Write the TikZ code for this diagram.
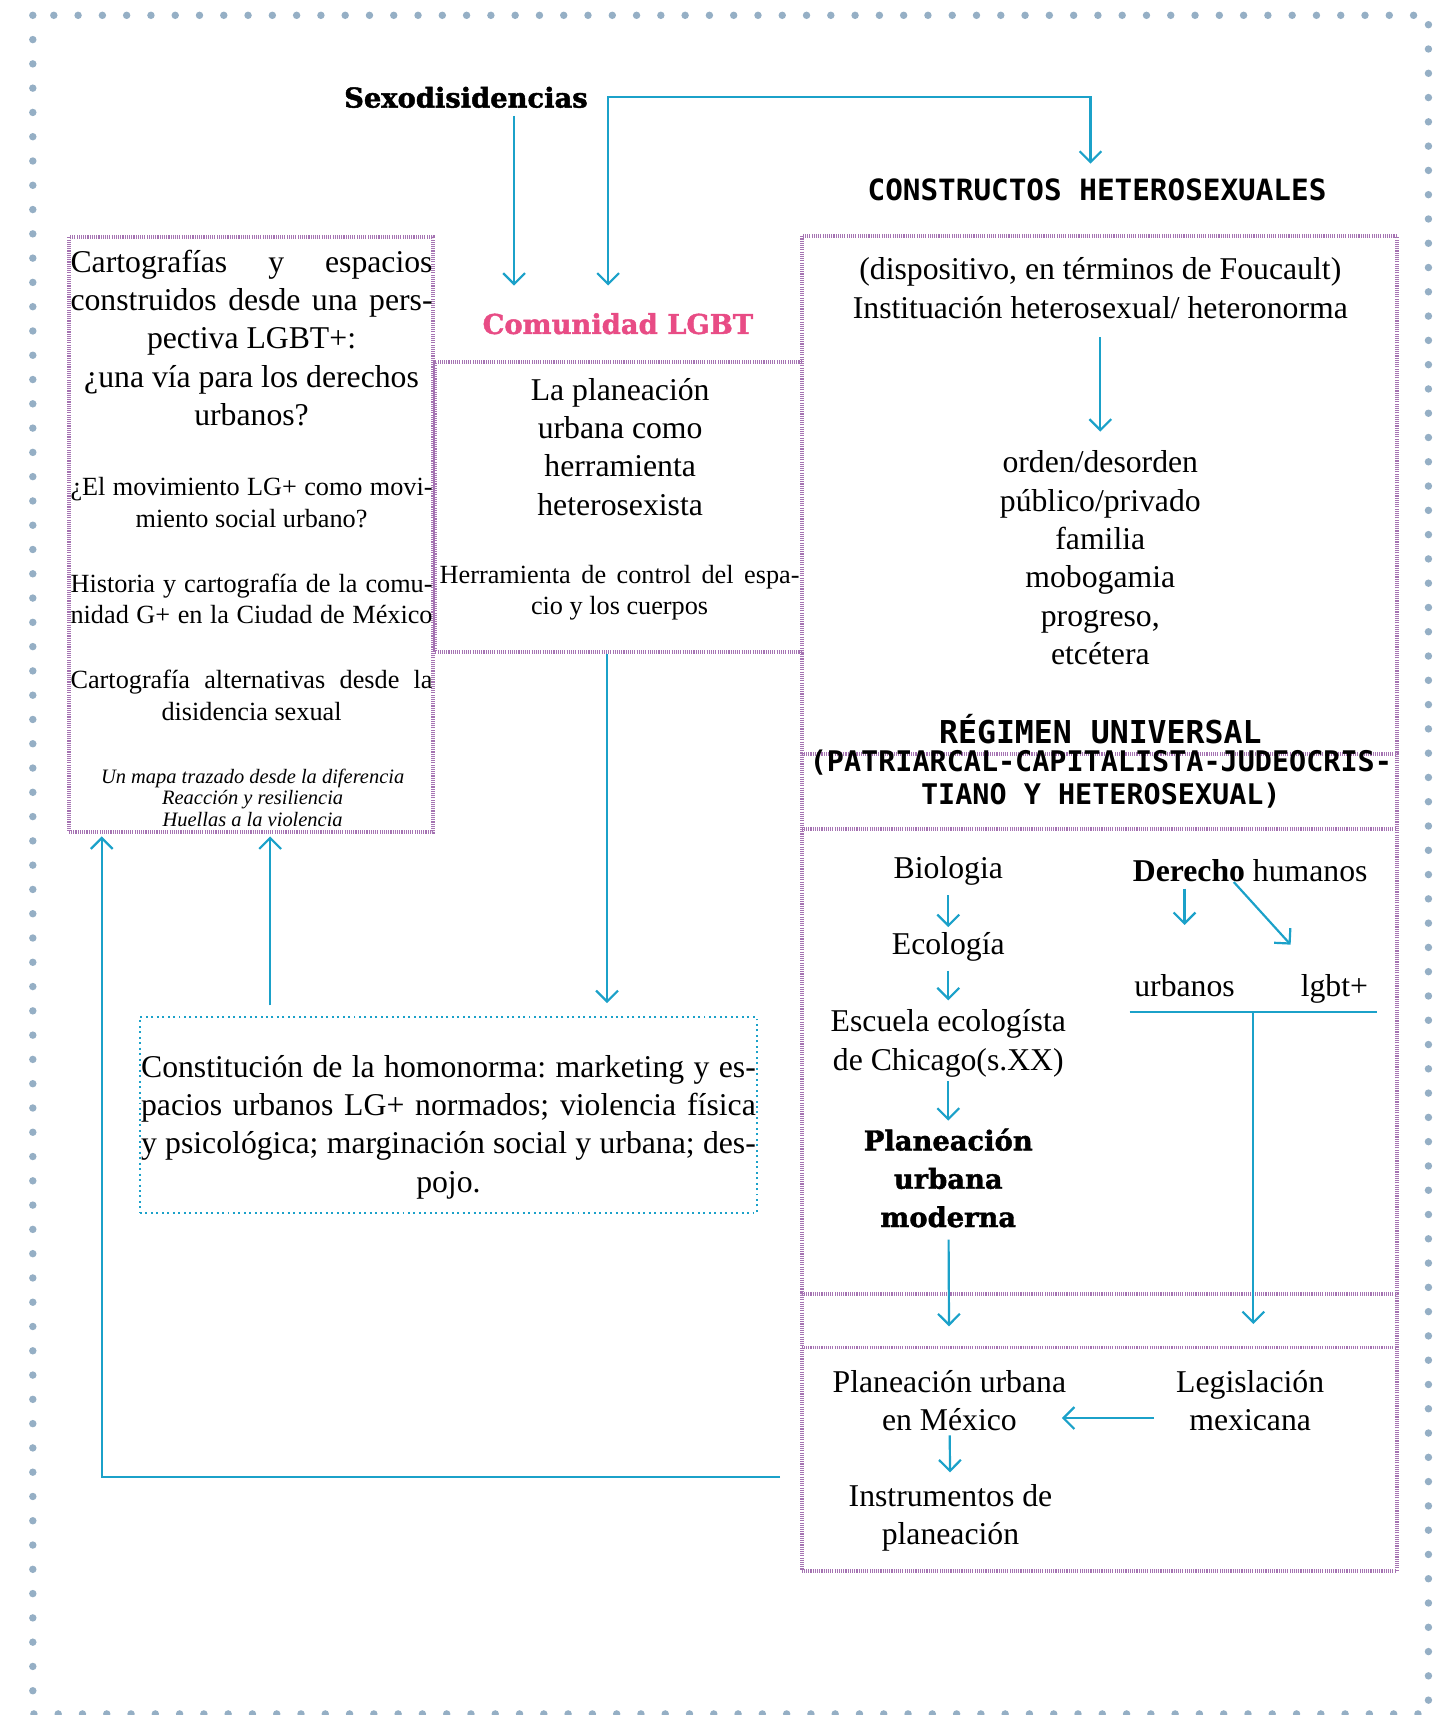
\documentclass[tikz,border=0pt]{standalone}
\usepackage{fontspec}
\setmainfont{Liberation Serif}
\newfontfamily\displayfont{DejaVu Serif}[BoldFeatures={FakeBold=1.6}]
\newfontfamily\monofont{DejaVu Sans Mono}
\usepackage{tikz}
\usetikzlibrary{arrows.meta}

\definecolor{lineBlue}{RGB}{27,161,201}
\definecolor{lgbtPink}{RGB}{232,76,133}
\definecolor{boxPurple}{RGB}{165,115,178}
\definecolor{frameDot}{RGB}{149,175,197}

% stretch one line of a paragraph to a given width
\newcommand{\spreadline}[2][331pt]{\makebox[#1][s]{#2}}
\frenchspacing

\begin{document}
\begin{tikzpicture}[
  x=1pt, y=-1pt,
  every node/.style={align=center, inner sep=0pt},
  framedots/.style={draw=frameDot, line width=6.8pt, line cap=round, dash pattern=on 0pt off 22.2pt},
  box/.style={draw=boxPurple, line width=3.5pt, dash pattern=on 1pt off 1pt},
  dottedbox/.style={draw=lineBlue, line width=1.8pt, dash pattern=on 1.8pt off 3.2pt},
  flow/.style={-{Straight Barb[length=10pt,width=20pt]}, draw=lineBlue, line width=2pt},
  link/.style={draw=lineBlue, line width=2pt},
  bodytext/.style={font=\fontsize{29}{35}\selectfont},
  smalltext/.style={font=\fontsize{24}{29}\selectfont},
  notetext/.style={font=\itshape\fontsize{18.7}{19.5}\selectfont},
  heading/.style={font=\displayfont\bfseries\fontsize{25}{35}\selectfont},
  caps/.style={font=\monofont\bfseries\fontsize{26}{30}\selectfont}]

\useasboundingbox (0,0) rectangle (1330,1568);

% Dotted frame round the page
\draw[framedots] (30,14) rectangle (1306,1567);

% Boxes
\node[box, minimum width=333pt, minimum height=544pt] (cartografiasBox) at (229.5,489) {};
\node[box, minimum width=335pt, minimum height=265pt] (herramientaBox) at (565.5,463.5) {};
\node[box, minimum width=544pt, minimum height=1220pt] (constructosBox) at (1005,826) {};
\node[box, minimum width=544pt, minimum height=69pt] (regimenBox) at (1005,723.5) {};
\node[box, minimum width=544pt, minimum height=49pt] (enlaceBox) at (1005,1207.5) {};
\node[dottedbox, minimum width=564pt, minimum height=179pt] (homonormaBox) at (410,1019.5) {};

% Titles
\node[heading] (sexodisidencias) at (426,89) {Sexodisidencias};
\node[heading, text=lgbtPink] (comunidadLGBT) at (565,296) {Comunidad LGBT};
\node[caps, font=\monofont\bfseries\fontsize{26.8}{30}\selectfont] (constructosHetero) at (1003,174) {CONSTRUCTOS HETEROSEXUALES};

% Left box
\node[bodytext] (cartografiasTitle) at (230,309)
  {\spreadline{Cartografías y espacios}\\ \spreadline{construidos desde una pers-}\\ pectiva LGBT+:\\ ¿una vía para los derechos\\ urbanos?};
\node[smalltext] (movimientoLG) at (230,459.5)
  {\spreadline{¿El movimiento LG+ como movi-}\\ miento social urbano?};
\node[smalltext] (historiaCDMX) at (230,547.5)
  {\spreadline{Historia y cartografía de la comu-}\\ \spreadline{nidad G+ en la Ciudad de México}};
\node[smalltext] (cartografiaAlt) at (230,635.5)
  {\spreadline{Cartografía alternativas desde la}\\ disidencia sexual};
\node[notetext] (mapaDiferencia) at (231,729.5)
  {Un mapa trazado desde la diferencia\\ Reacción y resiliencia\\ Huellas a la violencia};

% Middle box
\node[bodytext] (planeacionHetero) at (567,408.5) {La planeación\\ urbana como\\ herramienta\\ heterosexista};
\node[smalltext] (controlEspacio) at (566.5,542)
  {\spreadline[329pt]{Herramienta de control del espa-}\\ cio y los cuerpos};

% Blue dotted box
\node[bodytext] (homonormaText) at (410,1030.5)
  {\spreadline[562pt]{Constitución de la homonorma: marketing y es-}\\ \spreadline[562pt]{pacios urbanos LG+ normados; violencia física}\\ \spreadline[562pt]{y psicológica; marginación social y urbana; des-}\\ pojo.};

% Right box
\node[bodytext] (instituacion) at (1006,263.5) {(dispositivo, en términos de Foucault)\\ Instituación heterosexual/ heteronorma};
\node[bodytext] (ordenList) at (1006,510) {orden/desorden\\ público/privado\\ familia\\ mobogamia\\ progreso,\\ etcétera};
\node[caps, font=\monofont\bfseries\fontsize{28.8}{30}\selectfont] (regimenTitle) at (1006,667) {RÉGIMEN UNIVERSAL};
\node[caps] (patriarcal) at (1006.5,712) {(PATRIARCAL-CAPITALISTA-JUDEOCRIS-\\ TIANO Y HETEROSEXUAL)};

\node[bodytext] (biologia) at (867,796) {Biologia};
\node[bodytext] (ecologia) at (867,866) {Ecología};
\node[bodytext] (chicago) at (867,954) {Escuela ecologísta\\ de Chicago(s.XX)};
\node[heading] (planeacionModerna) at (867,1077) {Planeación\\ urbana\\ moderna};
\node[bodytext] (planeacionMexico) at (868,1280.5) {Planeación urbana\\ en México};
\node[bodytext] (instrumentos) at (869,1388) {Instrumentos de\\ planeación};

\node[bodytext] (derechoHumanos) at (1143,796) {\textbf{Derecho} humanos};
\node[bodytext, anchor=base] (urbanos) at (1083,911) {urbanos};
\node[bodytext, anchor=base] (lgbt) at (1220,911) {lgbt+};
\node[bodytext] (legislacion) at (1143,1280.5) {Legislación\\ mexicana};

% Draw the arrows between the nodes
\draw[flow, shorten <=7pt, shorten >=25pt] ([xshift=44pt]sexodisidencias.south) -- ([xshift=44pt]sexodisidencias.south |- comunidadLGBT.north);
\draw[flow, {Straight Barb[length=10pt,width=20pt]}-{Straight Barb[length=10pt,width=20pt]}, shorten <=25pt, shorten >=14pt]
  ([xshift=-9pt]comunidadLGBT.north) |- ([xshift=30pt]sexodisidencias.east) -| ([xshift=-6pt]constructosHetero.north);

\draw[flow, shorten <=17pt, shorten >=17.5pt] (instituacion.south) -- (ordenList.north);

\draw[flow, shorten >=12pt] ([xshift=-10.5pt]herramientaBox.south) -- ([xshift=-10.5pt]herramientaBox.south |- homonormaBox.north);
\draw[flow, shorten <=10pt, shorten >=2pt] ([xshift=17.5pt]cartografiasBox.south |- homonormaBox.north) -- ([xshift=17.5pt]cartografiasBox.south);
\draw[flow, shorten >=2pt] ([xshift=-18pt,yshift=87pt]constructosBox.south west) -| ([xshift=-136.5pt]cartografiasBox.south);

% Left column of the right box
\draw[flow, shorten <=9pt, shorten >=5pt] (biologia) -- (ecologia);
\draw[flow, shorten <=8pt, shorten >=8.5pt] (ecologia) -- (chicago);
\draw[flow, shorten <=3.5pt, shorten >=7pt] (chicago) -- (planeacionModerna);
\draw[flow, shorten <=11pt, shorten >=40pt] (planeacionModerna) -- (planeacionMexico);
\draw[flow, shorten <=4pt, shorten >=11pt] (planeacionMexico) -- (instrumentos);

% Right column of the right box
\draw[flow, shorten <=6pt, shorten >=45pt] (urbanos.north |- derechoHumanos.south) -- (urbanos.north);
\draw[flow] ([xshift=-15pt]derechoHumanos.south) -- ([xshift=-40pt,yshift=27pt]lgbt.north);
\draw[link] ([xshift=-4pt,yshift=-14pt]urbanos.base west) -- coordinate (derechoBar) ([xshift=8pt,yshift=-14pt]lgbt.base east);
\draw[flow, shorten >=42pt] (derechoBar) -- (derechoBar |- legislacion.north);
\draw[flow, shorten <=20pt, shorten >=-4pt] ([yshift=-16pt]legislacion.west) -- ([yshift=-16pt]planeacionMexico.east);

\end{tikzpicture}
\end{document}
